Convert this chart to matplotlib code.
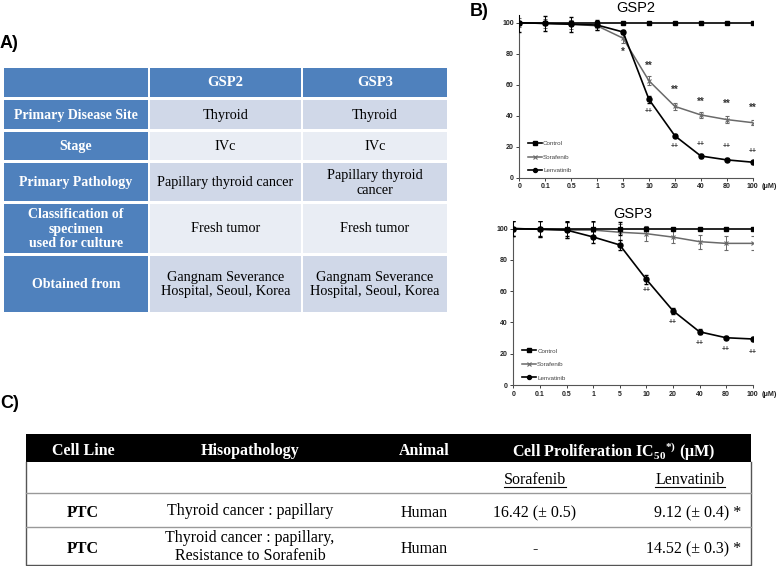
import numpy as np
import matplotlib
matplotlib.use("Agg")
import matplotlib.pyplot as plt
from matplotlib.patches import Rectangle
from matplotlib.lines import Line2D

plt.rcParams['font.family'] = ['Liberation Sans', 'DejaVu Sans']
plt.rcParams['mathtext.fontset'] = 'custom'
plt.rcParams['mathtext.rm'] = 'Liberation Serif'
plt.rcParams['mathtext.bf'] = 'Liberation Serif:bold'

# ---------------- data ----------------
conc_labels = ["0", "0.1", "0.5", "1", "5", "10", "20", "40", "80", "100"]

gsp2_control = [100, 100, 100, 100, 100, 100, 100, 100, 100, 100]
gsp2_sora = [100, 99.5, 99, 98, 90, 62.5, 46, 40.5, 37.5, 35.5]
gsp2_lenv = [100, 99.5, 99, 98.5, 94, 50.5, 27, 14, 11.5, 10]
gsp2_control_err = [0, 0, 0, 0, 0, 0, 0, 0, 0, 0]
gsp2_sora_err = [3, 3, 3, 3, 3, 3, 2, 2, 2, 1.5]
gsp2_lenv_err = [6, 5, 5, 3, 1.5, 2, 1, 1, 1, 1]
gsp2_star_labels = ["", "", "", "", "*", "**", "**", "**", "**", "**"]
gsp2_star_y = [0, 0, 0, 0, 81, 72, 57, 49, 47.5, 45]
gsp2_plus_labels = ["", "", "", "", "", "++", "++", "++", "++", "++"]
gsp2_plus_y = [0, 0, 0, 0, 0, 43, 20, 21.5, 20, 17]

gsp3_control = [100, 100, 100, 100, 100, 100, 100, 100, 100, 100]
gsp3_sora = [100, 99.5, 99, 99, 97.6, 96.7, 94.5, 91.6, 90.5, 90.5]
gsp3_lenv = [100, 99.5, 99, 94.6, 89.5, 67.5, 47.5, 34, 30.2, 29.4]
gsp3_control_err = [5, 5, 5, 5, 4, 1, 0.5, 0.5, 0.5, 0.5]
gsp3_sora_err = [5, 5, 5, 5, 5, 5, 4, 4.5, 4.5, 4.5]
gsp3_lenv_err = [5, 5, 5, 4, 3, 3, 2, 1.5, 1, 1]
gsp3_star_labels = ["", "", "", "", "", "", "", "", "", ""]
gsp3_star_y = [0] * 10
gsp3_plus_labels = ["", "", "", "", "", "++", "++", "++", "++", "++"]
gsp3_plus_y = [0, 0, 0, 0, 0, 60.5, 40, 26.5, 22.8, 20.5]

series_names = ["Control", "Sorafenib", "Lenvatinib"]

# Table A
tabA_cols = ["", "GSP2", "GSP3"]
tabA_rows = ["Primary Disease Site", "Stage", "Primary Pathology",
             "Classification of\nspecimen\nused for culture", "Obtained from"]
tabA_gsp2 = ["Thyroid", "IVc", "Papillary thyroid cancer", "Fresh tumor",
             "Gangnam Severance\nHospital, Seoul, Korea"]
tabA_gsp3 = ["Thyroid", "IVc", "Papillary thyroid\ncancer", "Fresh tumor",
             "Gangnam Severance\nHospital, Seoul, Korea"]

# Table C
tabC_header = ["Cell Line", "Hisopathology", "Animal",
               r"Cell Proliferation IC$_\mathbf{50}$$^\mathbf{*)}$ ($\mathbf{\mu}$M)"]
tabC_sub = ["Sorafenib", "Lenvatinib"]
tabC_cell = ["PTC", "PTC"]
tabC_histo = ["Thyroid cancer : papillary", "Thyroid cancer : papillary,\nResistance to Sorafenib"]
tabC_animal = ["Human", "Human"]
tabC_sora = ["16.42 (± 0.5)", "-"]
tabC_lenv = ["9.12 (± 0.4) *", "14.52 (± 0.3) *"]

# ---------------- figure ----------------
W, H = 778, 566
fig = plt.figure(figsize=(W / 100, H / 100), dpi=100)
bg = fig.add_axes([0, 0, 1, 1])
bg.set_xlim(0, W)
bg.set_ylim(H, 0)
bg.axis("off")

serif = ["Liberation Serif", "DejaVu Serif"]

# panel labels
bg.text(0, 43, "A)", fontsize=13, fontweight="bold", va="center", ha="left")
bg.text(470, 11, "B)", fontsize=13, fontweight="bold", va="center", ha="left")
bg.text(0, 404, "C)", fontsize=13, fontweight="bold", va="center", ha="left")

# ---- Table A ----
blue = "#4F81BD"
dark_row = "#D0D8E8"
light_row = "#E9EDF4"
col_edges = [3, 149, 302, 448]
row_edges = [68, 98, 130, 161, 202, 254, 313]
g = 1.0
for ci in range(3):
    x0, x1 = col_edges[ci], col_edges[ci + 1]
    y0, y1 = row_edges[0], row_edges[1]
    bg.add_patch(Rectangle((x0 + g, y0), x1 - x0 - 2 * g, y1 - y0 - 1.5, color=blue, lw=0))
    if tabA_cols[ci]:
        bg.text((x0 + x1) / 2, (y0 + y1) / 2, tabA_cols[ci], color="white", fontsize=10.5,
                fontweight="bold", family=serif, ha="center", va="center")
for ri, lab in enumerate(tabA_rows):
    y0, y1 = row_edges[ri + 1], row_edges[ri + 2]
    fill = dark_row if ri % 2 == 0 else light_row
    for ci in range(3):
        x0, x1 = col_edges[ci], col_edges[ci + 1]
        c = blue if ci == 0 else fill
        bg.add_patch(Rectangle((x0 + g, y0 + 1.5), x1 - x0 - 2 * g, y1 - y0 - 2.5, color=c, lw=0))
    bg.text((col_edges[0] + col_edges[1]) / 2, (y0 + y1) / 2 + 1, lab, color="white",
            fontsize=10.0, fontweight="bold", family=serif, ha="center", va="center",
            linespacing=1.12)
    bg.text((col_edges[1] + col_edges[2]) / 2, (y0 + y1) / 2 + 1, tabA_gsp2[ri], color="black",
            fontsize=10.3, family=serif, ha="center", va="center", linespacing=1.2)
    bg.text((col_edges[2] + col_edges[3]) / 2, (y0 + y1) / 2 + 1, tabA_gsp3[ri], color="black",
            fontsize=10.3, family=serif, ha="center", va="center", linespacing=1.2)

# ---- Table C ----
cx0, cx1 = 26, 751
crow = [434, 462, 493, 527, 565]
fsC = 11.5
bg.add_patch(Rectangle((cx0, crow[0]), cx1 - cx0, crow[1] - crow[0], color="black", lw=0))
bg.plot([cx0, cx0, cx1, cx1], [crow[1], crow[4], crow[4], crow[1]], color="#555555", lw=1)
for yy in crow[2:4]:
    bg.plot([cx0, cx1], [yy, yy], color="#999999", lw=1)
hx = [83, 250, 424, 614]
for x, t in zip(hx, tabC_header):
    bg.text(x, (crow[0] + crow[1]) / 2 + 1, t, color="white", fontsize=fsC, fontweight="bold",
            family=serif, ha="center", va="center_baseline")
sub_x = [535, 690]
sub_texts = []
for x, t in zip(sub_x, tabC_sub):
    tt = bg.text(x, (crow[1] + crow[2]) / 2 + 1, t, fontsize=fsC, family=serif,
                 ha="center", va="center_baseline")
    sub_texts.append(tt)
for i in range(2):
    yc = (crow[2 + i] + crow[3 + i]) / 2 + 1
    bg.text(83, yc, tabC_cell[i], fontsize=fsC, fontweight="bold", family=serif, ha="center",
            va="center_baseline")
    bg.text(250, yc, tabC_histo[i], fontsize=fsC, family=serif, ha="center", va="center",
            linespacing=1.25)
    bg.text(424, yc, tabC_animal[i], fontsize=fsC, family=serif, ha="center", va="center_baseline")
    bg.text(535, yc, tabC_sora[i], fontsize=fsC, family=serif, ha="center", va="center_baseline")
    bg.text(741, yc, tabC_lenv[i], fontsize=fsC, family=serif, ha="right", va="center_baseline")

# underline sub-headers using the real text extents
fig.canvas.draw()
rend = fig.canvas.get_renderer()
inv = bg.transData.inverted()
for tt in sub_texts:
    bb = tt.get_window_extent(rend)
    (xa, ya), (xb, yb) = inv.transform([[bb.x0, bb.y0], [bb.x1, bb.y1]])
    bg.plot([xa, xb], [487, 487], color="black", lw=0.8)


# ---- Panel B plots ----
def px_axes(x0, x1, y_zero, px_per_unit, ymax=105):
    top = y_zero - ymax * px_per_unit
    return fig.add_axes([x0 / W, 1 - y_zero / H, (x1 - x0) / W, (y_zero - top) / H])


styles = [dict(color="black", marker="s", ms=2.8, lw=1.2),
          dict(color="#6a6a6a", marker="x", ms=3.5, mew=0.8, lw=1.1),
          dict(color="black", marker="o", ms=3.6, lw=1.2)]


def draw(ax, title, ctrl, sora, lenv, ce, se, le, stars, stars_y, plus, plus_y):
    x = np.arange(len(conc_labels))
    for k, (vals, errs) in enumerate([(ctrl, ce), (sora, se), (lenv, le)]):
        ax.errorbar(x, vals, yerr=errs, capsize=1.5, elinewidth=0.7,
                    zorder=[4, 3, 5][k], **styles[k])
    for xi, s, yv in zip(x, stars, stars_y):
        if s:
            ax.text(xi, yv, s, fontsize=7, fontweight="bold", color="#333333",
                    ha="center", va="center")
    for xi, s, yv in zip(x, plus, plus_y):
        if s:
            ax.text(xi, yv, s, fontsize=5, fontweight="bold", color="#333333",
                    ha="center", va="center")
    ax.set_xlim(0, len(conc_labels) - 1)
    ax.set_ylim(0, 105)
    ax.set_yticks([0, 20, 40, 60, 80, 100])
    ax.set_xticks(x)
    ax.set_xticklabels(conc_labels)
    ax.tick_params(labelsize=5, length=2, width=0.6, pad=2, colors="#222222")
    for lab in ax.get_xticklabels() + ax.get_yticklabels():
        lab.set_fontweight("bold")
    for sp in ["top", "right"]:
        ax.spines[sp].set_visible(False)
    for sp in ["left", "bottom"]:
        ax.spines[sp].set_color("#555555")
        ax.spines[sp].set_linewidth(0.8)
    ax.patch.set_alpha(0)
    ax.set_title(title, fontsize=10.5, pad=1)
    ax.annotate("(μM)", xy=(len(conc_labels) - 1, 0), xycoords="data",
                xytext=(6.5, -4), textcoords="offset points", fontsize=5.2,
                fontweight="bold", ha="left", va="top", color="#222222",
                annotation_clip=False)
    handles = []
    for k in range(3):
        st = dict(styles[k])
        st["ms"] = st["ms"] * 0.8
        handles.append(Line2D([], [], **st))
    leg = ax.legend(handles, series_names, loc="lower left", bbox_to_anchor=(0.02, 0.0),
                    frameon=False, fontsize=4.5, handlelength=2.2, labelspacing=1.3,
                    handletextpad=0.15, borderaxespad=0.3)
    for t in leg.get_texts():
        t.set_color("#444444")


ax1 = px_axes(519.3, 752.7, 177.7, 1.55)
draw(ax1, "GSP2", gsp2_control, gsp2_sora, gsp2_lenv, gsp2_control_err, gsp2_sora_err,
     gsp2_lenv_err, gsp2_star_labels, gsp2_star_y, gsp2_plus_labels, gsp2_plus_y)
ax2 = px_axes(513.3, 752.7, 385, 1.565)
draw(ax2, "GSP3", gsp3_control, gsp3_sora, gsp3_lenv, gsp3_control_err, gsp3_sora_err,
     gsp3_lenv_err, gsp3_star_labels, gsp3_star_y, gsp3_plus_labels, gsp3_plus_y)

fig.savefig("out.png", dpi=100)
